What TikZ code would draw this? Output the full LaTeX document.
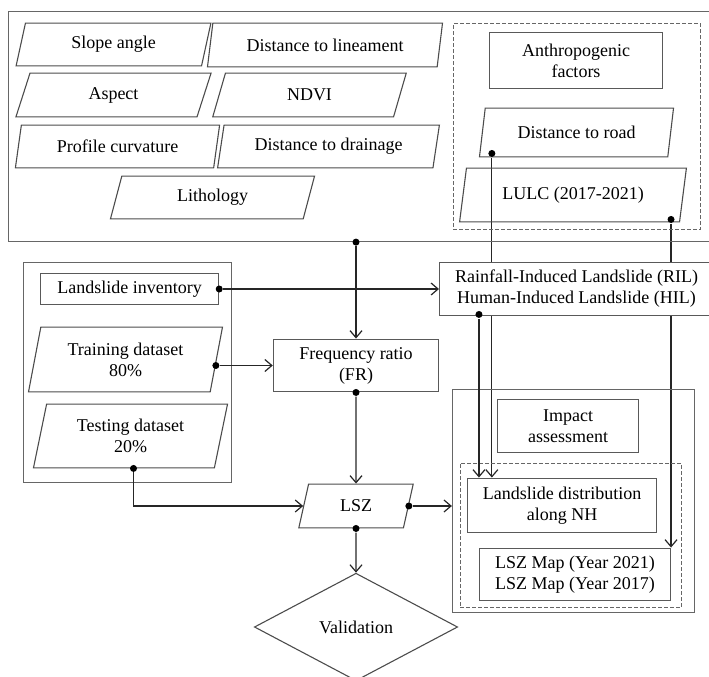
\documentclass[tikz,border=0pt]{standalone}
\usepackage{fontspec}
\setmainfont{Liberation Serif}
\usetikzlibrary{shapes.geometric, arrows.meta, backgrounds}

\begin{document}
\begin{tikzpicture}[x=1bp, y=1bp, font=\fontsize{18bp}{21bp}\selectfont,
          >={Straight Barb[length=7bp,width=12bp]}, line width=1.1bp,
          box/.style={rectangle, draw=black!65, inner sep=2bp, align=center},
          para/.style={trapezium, draw=black!70, trapezium left angle=77,
            trapezium right angle=103, trapezium stretches=true,
            inner sep=2bp, align=center},
          grp/.style={rectangle, draw=black!60, inner sep=0pt},
          dgrp/.style={grp, dash pattern=on 4bp off 2bp},
          dot/.style={circle, fill=black, inner sep=0pt, minimum size=7bp},
          conn/.style={->, black!85, line width=1.2bp}]
        \path[use as bounding box, clip] (0,0) rectangle (709,-677);
        % conditioning factors (group box runs past the right edge)
        \node[grp, minimum width=707, minimum height=231] (factors) at (360.5,-126.5) {};
        \node[para, minimum width=197, minimum height=43] (slope) at (113.5,-44.5) {Slope angle};
        \node[para, minimum width=236, minimum height=44] (linea) at (325,-45) {Distance to lineament};
        \node[para, minimum width=197, minimum height=44] (aspect) at (113.5,-95) {Aspect};
        \node[para, minimum width=195, minimum height=44] (ndvi) at (309.5,-95) {NDVI};
        \node[para, minimum width=205, minimum height=43] (profile) at (117.5,-146.5) {Profile curvature};
        \node[para, minimum width=223, minimum height=43] (drain) at (328.5,-146.5) {Distance to drainage};
        \node[para, minimum width=205, minimum height=43] (litho) at (212.5,-197.5) {Lithology};
        % anthropogenic factors
        \node[dgrp, minimum width=248, minimum height=207] (anthro) at (577,-126.5) {};
        \node[box, minimum width=174, minimum height=57] (anthfac) at (576,-60.5) {Anthropogenic\\factors};
        \node[para, minimum width=195, minimum height=49] (road) at (576.5,-132.5) {Distance to road};
        \node[para, minimum width=228, minimum height=54] (lulc) at (573,-195) {LULC (2017-2021)};
        \node[box, fill=white, minimum width=275, minimum height=54] (ril) at (576.5,-289)
          {Rainfall-Induced Landslide (RIL)\\Human-Induced Landslide (HIL)};
        % inventory and datasets
        \node[grp, minimum width=209, minimum height=221] (data) at (127.5,-372.5) {};
        \node[box, minimum width=179, minimum height=32] (inv) at (129.5,-289) {Landslide inventory};
        \node[para, minimum width=195, minimum height=65] (train) at (125.5,-359.5) {Training dataset\\80\%};
        \node[para, minimum width=195, minimum height=64] (test) at (130.5,-436) {Testing dataset\\20\%};
        % model and output
        \node[box, minimum width=166, minimum height=53] (fr) at (356,-365.5) {Frequency ratio\\(FR)};
        \node[para, minimum width=115, minimum height=44] (lsz) at (356,-506) {LSZ};
        \node[diamond, draw=black!70, aspect=2, inner sep=0pt, minimum width=204, minimum height=108] (valid) at (356,-627) {Validation};
        % impact assessment
        \node[grp, minimum width=243, minimum height=224] (impact) at (573.5,-501) {};
        \node[box, minimum width=142, minimum height=54] (impass) at (568,-426) {Impact\\assessment};
        \node[dgrp, minimum width=222, minimum height=145] (nh) at (571,-535.5) {};
        \node[box, minimum width=190, minimum height=55] (dist) at (562,-505.5) {Landslide distribution\\along NH};
        \node[box, minimum width=192, minimum height=53] (maps) at (575,-574.5) {LSZ Map (Year 2021)\\LSZ Map (Year 2017)};
        % junction dots
        \node[dot] (d1) at (factors.south -| fr.north) {};
        \node[dot] (d2) at (inv.east) {};
        \node[dot] (d3) at ([shift={(-1,-6)}]train.east) {};
        \node[dot] (d4) at (fr.south) {};
        \node[dot] (d5) at ([xshift=3]test.south) {};
        \node[dot] (d6) at (lsz.east) {};
        \node[dot] (d7) at (lsz.south) {};
        \node[dot] (d8) at ([shift={(13,4)}]road.bottom left corner) {};
        \node[dot] (d9) at ([shift={(-9,3)}]lulc.bottom right corner) {};
        \node[dot] (d10) at ([shift={(40,2)}]ril.south west) {};
        % connectors
        \draw[conn] (d1) -- (fr.north);
        \draw[conn] (d2) -- (ril.west);
        \draw[conn] (d3) -- (d3 -| fr.west);
        \draw[conn] (d4) -- (lsz.north);
        \draw[conn] (d5) |- (lsz.west);
        \draw[conn] (d6) -- (d6 -| impact.west);
        \draw[conn] (d7) -- (valid.north);
        \draw[conn] (d10) -- (d10 |- dist.north);
        \begin{pgfonlayer}{background}
          \draw[conn] (d8) -- (d8 |- dist.north);
          \draw[conn] (d9) -- (d9 |- maps.north);
        \end{pgfonlayer}
      \end{tikzpicture}
\end{document}
